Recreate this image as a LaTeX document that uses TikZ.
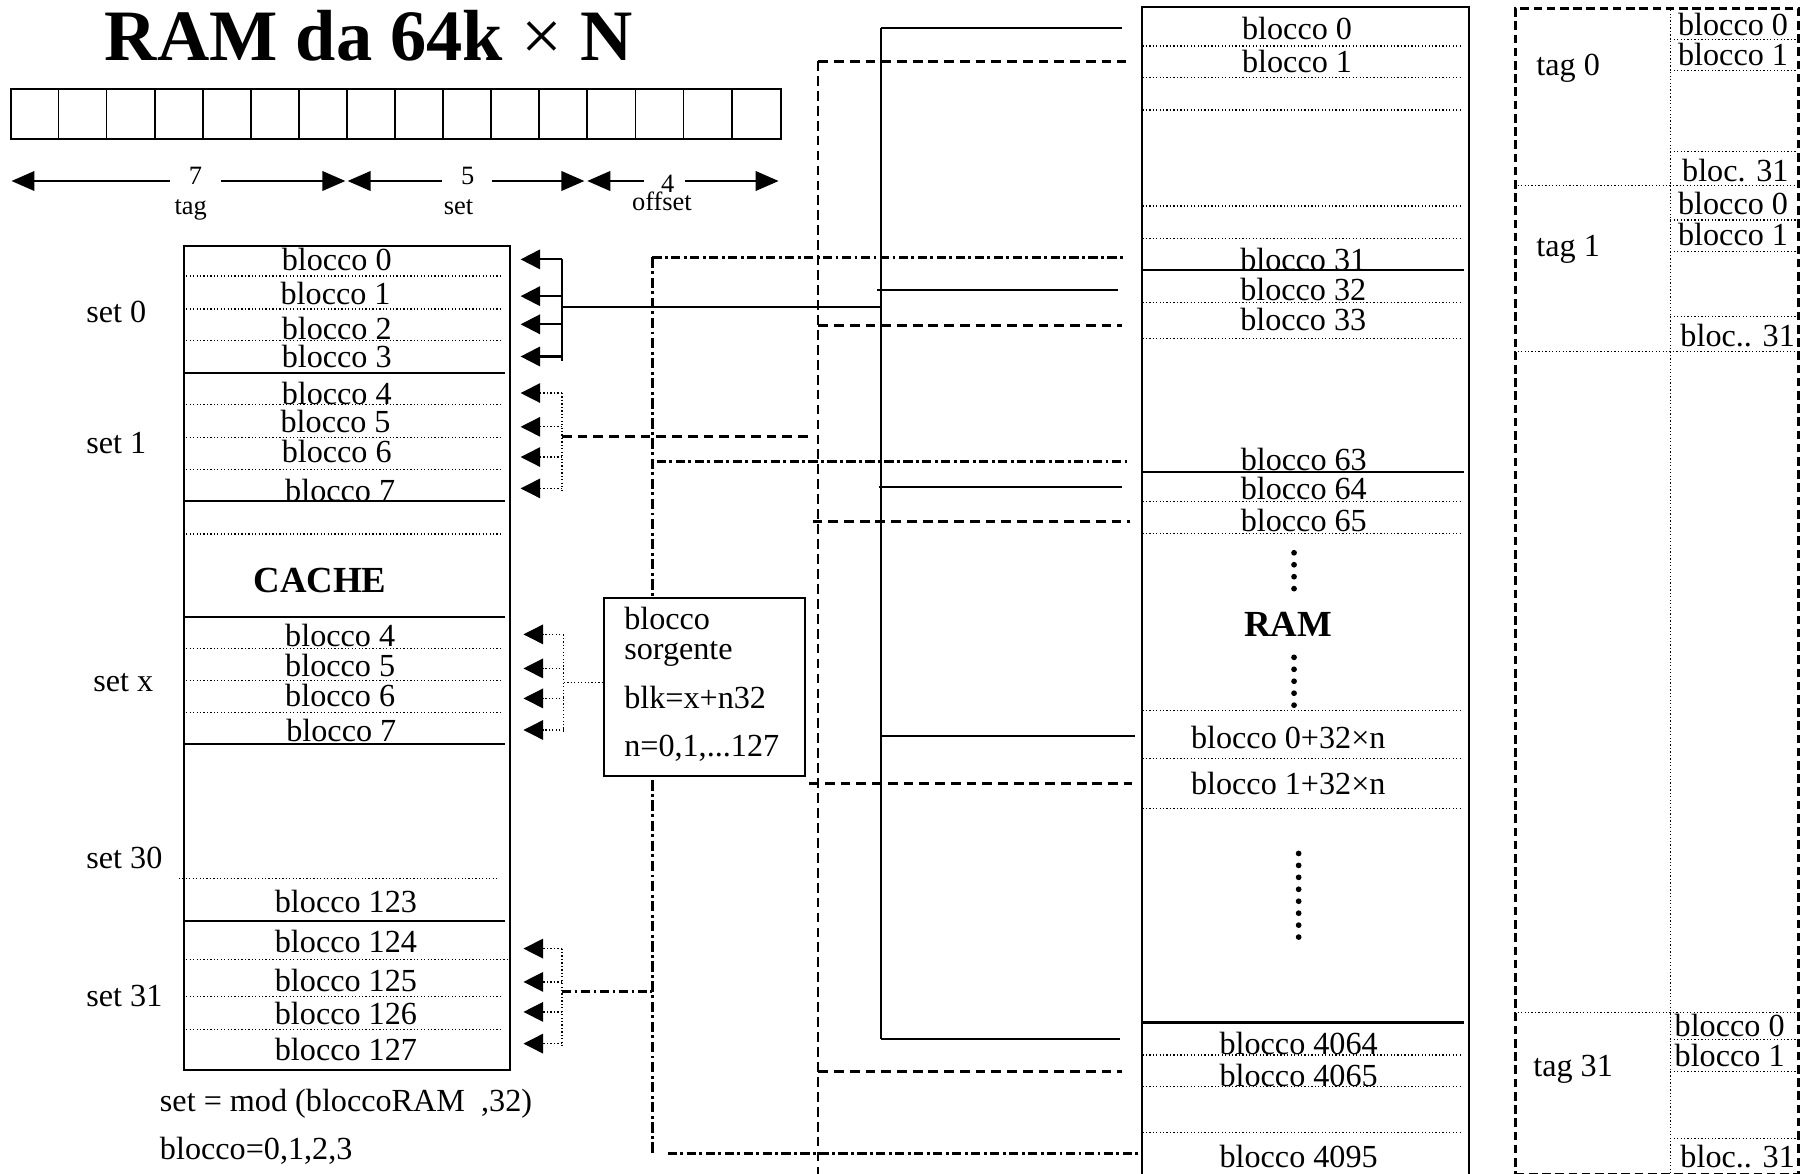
\documentclass[tikz,border=0pt]{standalone}
\usepackage{fontspec}
\setmainfont{Liberation Serif}
\usetikzlibrary{arrows.meta}
\begin{document}
\begin{tikzpicture}[x=1pt,y=-1pt,
  txt/.style={font=\fontsize{28}{30}\selectfont, inner sep=0pt, anchor=base},
  txtw/.style={font=\fontsize{28}{30}\selectfont, inner sep=0pt, anchor=base west},
  small/.style={font=\fontsize{23}{25}\selectfont, inner sep=0pt, anchor=base},
  boldlbl/.style={font=\fontsize{32}{34}\selectfont\bfseries, inner sep=0pt, anchor=base},
  solidln/.style={line width=1.8pt},
  dotln/.style={line width=1.1pt, dash pattern=on 1.1pt off 1.9pt},
  dashln/.style={line width=2.6pt, dash pattern=on 8.5pt off 5.2pt},
  thindash/.style={line width=1.6pt, dash pattern=on 8.5pt off 4.5pt},
  dashdot/.style={line width=2.6pt, dash pattern=on 8pt off 3pt on 2.5pt off 3pt},
  tagdash/.style={line width=2.6pt, dash pattern=on 7.5pt off 4pt},
  bigdots/.style={line width=5pt, line cap=round, dash pattern=on 0pt off 10.4pt},
  toparr/.style={-{Triangle[length=20pt,width=17pt]}},
  toparrl/.style={{Triangle[length=20pt,width=17pt]}-},
  rowarr/.style={-{Triangle[length=17pt,width=17pt]}}
]
\useasboundingbox (0,0) rectangle (1568,1021.5);

% ---------- title ----------
\node[anchor=base west, inner sep=0pt, font=\fontsize{63}{66}\selectfont\bfseries] (title) at (91,52.8)
  {RAM da 64k {\mdseries ×} N};

% ---------- address bit field ----------
\node[draw, line width=1.6pt, anchor=north west, minimum width=669.5pt, minimum height=43.5pt, inner sep=0pt] (bits) at (9,76.5) {};
\foreach \i in {1,...,15} \draw[line width=1.6pt] (9+\i*41.84,76.5) -- (9+\i*41.84,120);

% ---------- field length arrows ----------
\coordinate (tL) at (10,157.5);
\coordinate (tM1) at (300.5,157.5);
\coordinate (tM2) at (302.5,157.5);
\coordinate (tM3) at (508.5,157.5);
\coordinate (tM4) at (511,157.5);
\coordinate (tR) at (677.5,157.5);
\node[small] (n7) at (170,160.5) {7};
\node[small] (ltag) at (166,187) {tag};
\node[small] (n5) at (407,160.5) {5};
\node[small] (lset) at (399,187) {set};
\node[small] (n4) at (581,167.5) {4};
\node[small] (loff) at (576,183.5) {offset};
\draw[solidln, toparrl] (tL) -- (148,157.5);
\draw[solidln, toparr] (192,157.5) -- (tM1);
\draw[solidln, toparrl] (tM2) -- (385,157.5);
\draw[solidln, toparr] (428,157.5) -- (tM3);
\draw[solidln, toparrl] (tM4) -- (560,157.5);
\draw[solidln, toparr] (596,157.5) -- (tR);

% ---------- cache ----------
\node[draw, line width=1.8pt, anchor=north west, minimum width=284pt, minimum height=717.5pt, inner sep=0pt] (cache) at (159,213) {};
\foreach \y in {240.2,268.8,296.2,351.9,380.5,408.5,464.7,564.2,592.3,620,867.4,895.6}
  \draw[dotln] (162,\y) -- (435.7,\y);
\draw[dotln] (155.6,764.5) -- (432,764.5);
\draw[dotln] (162,835) -- (443,835);
\foreach \y in {324.5,436.2,536.7,647.7,801.3}
  \draw[solidln] (160,\y) -- (439,\y);
\foreach \t/\x/\y [count=\k] in {blocco 0/293/235.6, blocco 1/292/264.7, blocco 2/293/295.6, blocco 3/293/320.1,
   blocco 4/293/352.2, blocco 5/292/376.4, blocco 6/293/402.6, blocco 7/296/436.2,
   blocco 4/296/562.8, blocco 5/296/588.3, blocco 6/296/614.4, blocco 7/297/645.4,
   blocco 123/301/794.3, blocco 124/301/828.6, blocco 125/301/863, blocco 126/301/891.2, blocco 127/301/922.6}
  \node[txt] (c\k) at (\x,\y) {\t};
\node[boldlbl] (cachelbl) at (278.5,515.8) {CACHE};
\node[txtw] (set0) at (75,281) {set 0};
\node[txtw] (set1) at (75,394.8) {set 1};
\node[txtw] (setx) at (81,602) {set x};
\node[txtw] (set30) at (75,755.5) {set 30};
\node[txtw] (set31) at (75,876) {set 31};
\node[txtw] (formula) at (139,967.5) {set = mod (bloccoRAM\ \ ,32)};
\node[txtw] (bl0123) at (139,1008.7) {blocco=0,1,2,3};

% ---------- arrows into the cache ----------
% set 0 (solid)
\coordinate (b0t) at (489,225.7);
\coordinate (b0b) at (489,314);
\coordinate (b0m) at (489,267);
\draw[solidln] (b0t) -- (b0b);
\foreach \y in {225.7,257.7,282.2,310.2} \draw[solidln, rowarr] (489,\y) -- (453,\y);
% set 1 (dotted)
\coordinate (b1t) at (489,342);
\coordinate (b1b) at (489,428);
\coordinate (b1m) at (489,379.6);
\draw[dotln] (b1t) -- (b1b);
\foreach \y in {342,371.4,397.7,425} \draw[dotln, rowarr] (489,\y) -- (453,\y);
% set x (dotted)
\coordinate (bxt) at (490.6,552);
\coordinate (bxb) at (490.6,637);
\coordinate (bxm) at (490.6,594);
\draw[dotln] (bxt) -- (bxb);
\foreach \y in {552,581.6,607.7,635.2} \draw[dotln, rowarr] (490.6,\y) -- (455.5,\y);
% set 31 (dotted)
\coordinate (b31t) at (489,825.4);
\coordinate (b31b) at (489,912);
\coordinate (b31m) at (489,862.5);
\draw[dotln] (b31t) -- (b31b);
\foreach \y in {825.4,854.4,880.5,908.1} \draw[dotln, rowarr] (489,\y) -- (455.5,\y);

% ---------- trunks ----------
\coordinate (ddTop) at (567.6,224);
\coordinate (ddBot) at (567.6,1003.5);
\draw[line width=2.2pt, dash pattern=on 9pt off 3pt on 2.5pt off 3pt] (ddTop) -- (ddBot);
\coordinate (dsTop) at (712,53.1);
\coordinate (dsBot) at (712,1021.5);
\draw[thindash] (dsTop) -- (dsBot);
\coordinate (soTop) at (766.4,24.7);
\coordinate (soBot) at (766.4,904);
\draw[solidln] (soTop) -- (soBot);

% ---------- RAM ----------
\node[draw, line width=1.8pt, anchor=north west, minimum width=284pt, minimum height=1017pt, inner sep=0pt] (ram) at (993,5.5) {};
\foreach \y in {40,67.3,95.7,179.3,207.4,263.1,294.5,436.6,464.1,618.5,660,703.5,918.1,945.1,985.4}
  \draw[dotln] (994,\y) -- (1271,\y);
\foreach \y in {235,410.5,889.7}
  \draw[solidln] (994,\y) -- (1274,\y);
\foreach \t/\x/\y [count=\k] in {blocco 0/1128.6/34.2, blocco 1/1128.6/63.2, blocco 31/1134/235.6, blocco 32/1134/261.1,
   blocco 33/1134/287.2, blocco 63/1134.5/409, blocco 64/1134.5/434.6, blocco 65/1134.5/462.7,
   blocco 0+32×n/1121/651.3, blocco 1+32×n/1121/691.3, blocco 4064/1130/917.3, blocco 4065/1130/945.1, blocco 4095/1130/1016.2}
  \node[txt] (r\k) at (\x,\y) {\t};
\node[boldlbl] (ramlbl) at (1120.7,554) {RAM};
\draw[bigdots] (1126,481) -- (1126,515);
\draw[bigdots] (1126,572) -- (1126,616);
\draw[bigdots] (1130,742.6) -- (1130,820);

% ---------- connectors to RAM ----------
\draw[solidln] (soTop) -- (976,24.7);
\draw[dashln] (dsTop) -- (980,53.1);
\draw[dashdot] (ddTop) -- (978.6,224);
\draw[solidln] (763.3,252.5) -- (973,252.5);
\draw[dashln] (712,283.5) -- (976,283.5);
\draw[dashdot] (571.5,401.2) -- (982,401.2);
\draw[solidln] (764.5,423.6) -- (976,423.6);
\draw[dashln] (707,454) -- (983,454);
\draw[solidln] (767,640.6) -- (988,640.6);
\draw[dashln] (704,681.8) -- (985,681.8);
\draw[solidln] (soBot) -- (974.4,904);
\draw[dashln] (712,932.3) -- (976,932.3);
\draw[dashdot] (581,1003.7) -- (990,1003.7);
% from the cache sets
\draw[solidln] (b0m) -- (766.4,267);
\draw[dashln] (b1m) -- (704.3,379.6);
\draw[dashdot] (b31m) -- (567.6,862.5);

% ---------- source block box ----------
\node[draw, fill=white, line width=1.8pt, anchor=north west, minimum width=174.6pt, minimum height=155.2pt, inner sep=0pt] (src) at (524.6,519.3) {};
\draw[dotln] (bxm) -- (src.west |- bxm);
\node[txtw] (s1) at (543,548) {blocco};
\node[txtw] (s2) at (543,573.8) {sorgente};
\node[txtw] (s3) at (543,616.4) {blk=x+n32};
\node[txtw] (s4) at (543,658.4) {n=0,1,...127};

% ---------- tag directory ----------
\node[draw, tagdash, anchor=north west, minimum width=245.9pt, minimum height=1014.7pt, inner sep=0pt] (tagbox) at (1317.6,5.8) {};
\draw[dotln] (1453.3,5.8) -- (1453.3,1020.5);
\foreach \y in {34.2,61.5,132,191.5,219,275.6,904.2,932.6,990.7}
  \draw[dotln] (1453.3,\y) -- (1563,\y);
\foreach \y in {161.6,306,881}
  \draw[dotln] (1317.6,\y) -- (1563,\y);
\foreach \t/\x/\y [count=\k] in {blocco 0/1508/30.5, blocco 1/1508/56.6, bloc. 31/1510/158.1,
   blocco 0/1508/187, blocco 1/1508/214, bloc.. 31/1512/301.7,
   blocco 0/1505/901.6, blocco 1/1505/927.7, bloc.. 31/1512/1015.9}
  \node[txt] (t\k) at (\x,\y) {\t};
\node[txtw] (tag0) at (1336.7,65.3) {tag 0};
\node[txtw] (tag1) at (1336.7,223.4) {tag 1};
\node[txtw] (tag31) at (1334,937) {tag 31};
\end{tikzpicture}
\end{document}
